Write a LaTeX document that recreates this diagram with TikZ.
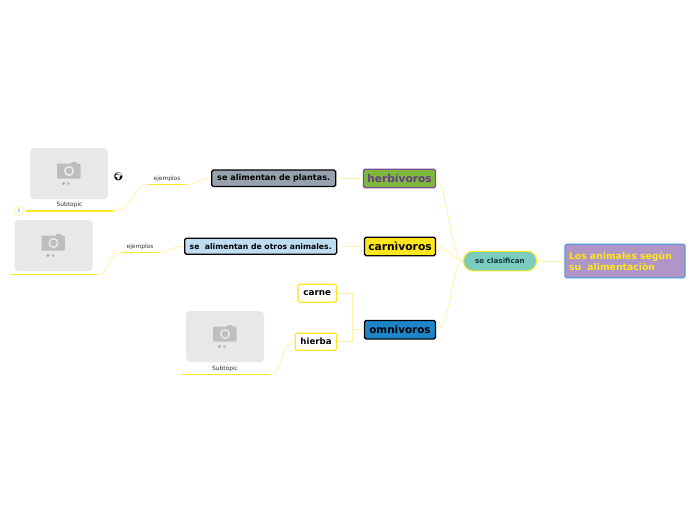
\documentclass[tikz,border=0pt]{standalone}
\usepackage{fontspec}
\setmainfont{DejaVu Sans}
\newfontfamily\emojifont{Noto Emoji}
\newcommand\dn[1]{\raisebox{-0.9pt}{#1}}
\definecolor{thinline}{HTML}{FFF2A8}
\definecolor{thickline}{HTML}{FFE620}
\definecolor{boxyellow}{HTML}{FFE61E}
\definecolor{phfill}{HTML}{E7E8EA}
\definecolor{phicon}{HTML}{BDBEC0}
\tikzset{
  x=1pt,y=-1pt,
  topicbox/.style={draw,rounded corners=1.6pt,line width=1.3pt,inner sep=0pt,font=\bfseries},
  link/.style={thinline,line width=0.8pt},
  under/.style={thickline,line width=1.4pt},
  small/.style={inner sep=0pt,text=black!80,font=\fontsize{5.9}{7}\selectfont},
  photo/.pic={
    \fill[phfill,rounded corners=4pt] (-39,-25.5) rectangle (39,25.5);
    \fill[phicon,rounded corners=1pt] (-12,-10) rectangle (11.5,5);
    \fill[phicon,rounded corners=1pt] (2,-11.5) rectangle (8,-9);
    \draw[white!92!black,line width=1.4pt] (0,-2.5) circle (4.3);
    \fill[phicon!90!black] (-5.5,10) circle (1.6);
    \fill[phicon] (-0.5,10) circle (1.6);
    \fill[phfill!70!white] (4.5,10) circle (1.6);
  }
}
\begin{document}
\begin{tikzpicture}
\useasboundingbox (0,0) rectangle (696,520);
\fill[white] (0,0) rectangle (696,520);
% nodes
\node[topicbox,draw={rgb,255:red,91;green,155;blue,213},fill={rgb,255:red,176;green,150;blue,199},minimum width=120pt,minimum height=33.5pt,text=boxyellow,align=left,text width=112pt,font=\bfseries\fontsize{9.3}{10.8}\selectfont] (root) at (625,261) {Los animales segùn\\su\ \ alimentaciòn};
\node[draw=boxyellow,line width=1pt,rounded corners=9.5pt,fill={rgb,255:red,123;green,204;blue,190},minimum width=73pt,minimum height=19.5pt,inner sep=0pt,text={rgb,255:red,15;green,61;blue,58},font=\bfseries\fontsize{7.2}{8}\selectfont] (clas) at (500,261) {\dn{se clasifican}};
\node[topicbox,draw={rgb,255:red,123;green,79;blue,157},fill={rgb,255:red,125;green,184;blue,58},minimum width=72pt,minimum height=18.5pt,text={rgb,255:red,100;green,60;blue,140},font=\bfseries\fontsize{10.6}{12}\selectfont] (herb) at (399.5,178.5) {\dn{herbívoros}};
\node[topicbox,draw=black,fill=boxyellow,minimum width=71pt,minimum height=18.5pt,font=\bfseries\fontsize{10.7}{12}\selectfont] (carn) at (400,246.5) {\dn{carnìvoros}};
\node[topicbox,draw=black,fill={rgb,255:red,30;green,134;blue,200},minimum width=71pt,minimum height=18.5pt,font=\bfseries\fontsize{10.4}{12}\selectfont] (omni) at (400,329.7) {\dn{omnivoros}};
\node[topicbox,draw=black,fill={rgb,255:red,152;green,162;blue,174},minimum width=124pt,minimum height=16.5pt,font=\bfseries\fontsize{8.1}{9}\selectfont] (plant) at (273.7,178.3) {\dn{se alimentan de plantas.}};
\node[topicbox,draw=black,fill={rgb,255:red,191;green,221;blue,242},minimum width=152pt,minimum height=16pt,font=\bfseries\fontsize{7.7}{9}\selectfont] (otros) at (260.7,246.2) {\dn{se\ \ alimentan de otros animales.}};
\node[topicbox,draw=boxyellow,fill=white,minimum width=38.5pt,minimum height=18pt,font=\bfseries\fontsize{8.8}{10}\selectfont] (carne) at (317.3,293.2) {\dn{carne}};
\node[topicbox,draw=boxyellow,fill=white,minimum width=41.5pt,minimum height=17pt,font=\bfseries\fontsize{8.6}{10}\selectfont] (hierba) at (316,341.7) {\dn{hierba}};
\node[small] (ej1) at (167,178.8) {ejemplos};
\node[small] (ej2) at (140,246.8) {ejemplos};
\node[small] (sub1) at (69.5,204.6) {Subtopic};
\node[small] (sub3) at (225,368.6) {Subtopic};
\node[draw=thinline,line width=0.8pt,rounded corners=1.5pt,minimum size=8.5pt,inner sep=0pt,text=black!55,font=\fontsize{4.5}{5}\selectfont] (one) at (19,211) {1};
\node[inner sep=0pt,font=\emojifont\fontsize{8}{9}\selectfont] (globe) at (118.5,177) {🌍};
% pictures
\pic at (69,173.5) {photo};
\pic at (53.5,245.5) {photo};
\pic at (225,336.5) {photo};
% underline ends
\coordinate (u1a) at (149,184.5);
\coordinate (u1b) at (185,184.5);
\coordinate (s1a) at (26,211);
\coordinate (s1b) at (113,211);
\coordinate (u2a) at (122,252.5);
\coordinate (u2b) at (158,252.5);
\coordinate (s2a) at (10,274.5);
\coordinate (s2b) at (97,274.5);
\coordinate (s3a) at (181,374.3);
\coordinate (s3b) at (270,374.3);
\coordinate (jn) at (352.5,329.7);
% connectors
\draw[link] (root.west) -- (clas.east);
\draw[link] (clas.west) .. controls (450,258) and (448,185) .. (herb.east);
\draw[link] (clas.west) .. controls (452,260) and (448,246.5) .. (carn.east);
\draw[link] (clas.west) .. controls (450,264) and (452,328) .. (omni.east);
\draw[link] (herb.west) -- (plant.east);
\draw[link] (carn.west) -- (otros.east);
\draw[link] (omni.west) -- (jn);
\draw[link] (carne.east) -| (jn);
\draw[link] (hierba.east) -| (jn);
\draw[link] (plant.west) .. controls (198,178.3) and (198,184.5) .. (u1b);
\draw[link] (otros.west) .. controls (171,246.2) and (171,252.5) .. (u2b);
\draw[link] (u1a) .. controls (131,184.5) and (134,211) .. (s1b);
\draw[link] (u2a) .. controls (108,252.5) and (110,274.5) .. (s2b);
\draw[link] (hierba.west) .. controls (280,341.7) and (284,374.3) .. (s3b);
\draw[under] (u1a) -- (u1b);
\draw[under] (u2a) -- (u2b);
\draw[under] (s1a) -- (s1b);
\draw[under] (s2a) -- (s2b);
\draw[under] (s3a) -- (s3b);
\end{tikzpicture}
\end{document}
